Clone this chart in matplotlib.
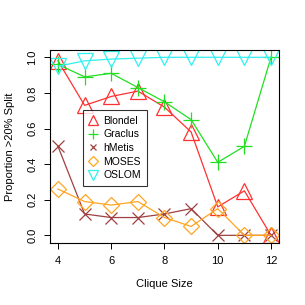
import numpy as np
import matplotlib
matplotlib.use("Agg")
import matplotlib.pyplot as plt

clique = [4, 5, 6, 7, 8, 9, 10, 11, 12]
blondel = [0.98, 0.73, 0.78, 0.81, 0.72, 0.58, 0.16, 0.25, 0.0]
graclus = [0.96, 0.89, 0.91, 0.83, 0.75, 0.65, 0.41, 0.50, 1.0]
hmetis = [0.50, 0.12, 0.10, 0.10, 0.12, 0.15, 0.0, 0.0, 0.0]
moses = [0.26, 0.19, 0.17, 0.19, 0.10, 0.05, 0.15, 0.0, 0.0]
oslom = [0.95, 0.98, 0.99, 0.995, 1.0, 1.0, 1.0, 1.0, 1.0]

plt.rcParams['font.family'] = ['Liberation Sans', 'DejaVu Sans']
fig = plt.figure(figsize=(3.05, 3.05), dpi=100)
ax = fig.add_axes([50/305, 62/305, 229/305, 193/305])

series = [("Blondel", blondel, "#FF3030", "^"),
          ("Graclus", graclus, "#20E020", "+"),
          ("hMetis", hmetis, "#A04040", "x"),
          ("MOSES", moses, "#FFA520", "D"),
          ("OSLOM", oslom, "#30F0F0", "v")]

for name, vals, col, mk in series:
    ms = 11
    if mk == "D":
        ms = 8
    if mk == "x":
        ms = 8
    if mk == "+":
        ms = 12
    ax.plot(clique, vals, color=col, lw=0.9, marker=mk, ms=ms,
            mfc="none", mec=col, mew=0.9, label=name)

ax.set_xlim(3.7, 12.3)
ax.set_ylim(-0.043, 1.041)
ax.set_xticks([4, 6, 8, 10, 12])
ax.set_yticks([0.0, 0.2, 0.4, 0.6, 0.8, 1.0])
ax.set_yticklabels(["0.0", "0.2", "0.4", "0.6", "0.8", "1.0"], rotation=90, va="center")
ax.tick_params(labelsize=8, length=4, width=0.7, pad=5)
for s in ax.spines.values():
    s.set_linewidth(0.8)
ax.set_xlabel("Clique Size", fontsize=8, labelpad=10)
ax.set_ylabel("Proportion >20% Split", fontsize=8, labelpad=9)

leg = ax.legend(loc="upper left", bbox_to_anchor=(0.144, 0.689), fontsize=7.5,
                frameon=True, fancybox=False, edgecolor="black",
                handlelength=0.9, handletextpad=0.5, borderpad=0.55,
                borderaxespad=0, labelspacing=0.35, markerscale=0.6)
leg.get_frame().set_linewidth(0.8)
for line in leg.get_lines():
    line.set_linestyle("none")

fig.savefig("out.png", dpi=100)
